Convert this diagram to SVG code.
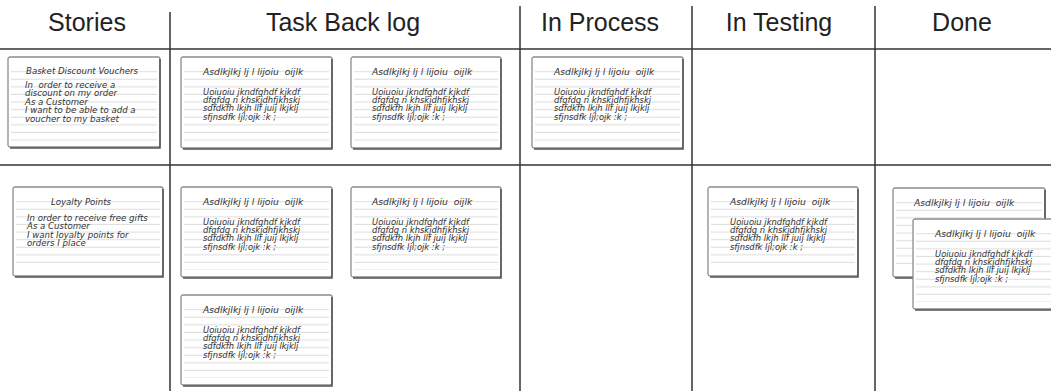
<svg xmlns="http://www.w3.org/2000/svg" width="1051" height="391" viewBox="0 0 1051 391">
<style>
.hdr{font-family:"Liberation Sans",Arial,sans-serif;font-size:25px;fill:#222;text-anchor:middle}
.grid{stroke:#333;stroke-width:1.5;fill:none}
.card{fill:#fff;stroke:#8c8c8c;stroke-width:1.3}
.shadow{fill:none;stroke:#555;stroke-width:1.6}
.t{font-family:"DejaVu Sans","Liberation Sans",sans-serif;font-style:italic;font-size:8.4px;fill:#333}
.ti{font-family:"DejaVu Sans","Liberation Sans",sans-serif;font-style:italic;font-size:9.2px;fill:#333}
.s{font-family:"DejaVu Sans","Liberation Sans",sans-serif;font-style:italic;font-size:8.6px;fill:#333}
.mid{text-anchor:middle}
</style>
<defs>
<pattern id="rule" patternUnits="userSpaceOnUse" width="20" height="7.6">
<line x1="0" y1="7" x2="20" y2="7" stroke="#d2d2d2" stroke-width="0.8"/>
</pattern>
</defs>
<rect width="1051" height="391" fill="#fff"/>
<g id="grid">
<line class="grid" x1="0" y1="49" x2="1051" y2="49" stroke-width="2"/>
<line class="grid" x1="0" y1="165" x2="1051" y2="165"/>
<line class="grid" x1="170" y1="12" x2="170" y2="391"/>
<line class="grid" x1="520" y1="6" x2="520" y2="391"/>
<line class="grid" x1="692" y1="6" x2="692" y2="391"/>
<line class="grid" x1="875" y1="6" x2="875" y2="391"/>
</g>
<g id="headers">
<text class="hdr" x="87" y="31">Stories</text>
<text class="hdr" x="343" y="31">Task Back log</text>
<text class="hdr" x="600" y="31">In Process</text>
<text class="hdr" x="779" y="31">In Testing</text>
<text class="hdr" x="962" y="31">Done</text>
</g>
<g id="connectors"/>
<g id="story-basket" transform="translate(8,57)">
<rect class="card" width="152" height="90" rx="2"/>
<path class="shadow" d="M152,2 V91 H2"/>
<rect x="3" y="14" width="146" height="70" fill="url(#rule)"/>
<text class="s mid" x="74" y="17">Basket Discount Vouchers</text>
<text class="s" x="17" y="31">In&#160; order to receive a</text>
<text class="s" x="17" y="39.4">discount on my order</text>
<text class="s" x="17" y="47.8">As a Customer</text>
<text class="s" x="17" y="56.2">I want to be able to add a</text>
<text class="s" x="17" y="64.6">voucher to my basket</text>
</g>
<g id="task-backlog-1" transform="translate(181,57)">
<rect class="card" width="151" height="91" rx="2"/>
<path class="shadow" d="M151,2 V92 H2"/>
<rect x="3" y="14" width="145" height="70" fill="url(#rule)"/>
<text class="ti" x="22" y="18">Asdlkjlkj lj l lijoiu&#160; oijlk</text>
<text class="t" x="22" y="38">Uoiuoiu jkndfghdf kjkdf</text>
<text class="t" x="22" y="46.2">dfgfdg n khskjdhfjkhskj</text>
<text class="t" x="22" y="54.4">sdfdkfh lkjh llf juij lkjklj</text>
<text class="t" x="22" y="62.6">sfjnsdfk ljl;ojk :k ;</text>
</g>
<g id="task-backlog-2" transform="translate(351,57)">
<rect class="card" width="150" height="91" rx="2"/>
<path class="shadow" d="M150,2 V92 H2"/>
<rect x="3" y="14" width="144" height="70" fill="url(#rule)"/>
<text class="ti" x="21" y="18">Asdlkjlkj lj l lijoiu&#160; oijlk</text>
<text class="t" x="21" y="38">Uoiuoiu jkndfghdf kjkdf</text>
<text class="t" x="21" y="46.2">dfgfdg n khskjdhfjkhskj</text>
<text class="t" x="21" y="54.4">sdfdkfh lkjh llf juij lkjklj</text>
<text class="t" x="21" y="62.6">sfjnsdfk ljl;ojk :k ;</text>
</g>
<g id="in-process-1" transform="translate(532,57)">
<rect class="card" width="151" height="91" rx="2"/>
<path class="shadow" d="M151,2 V92 H2"/>
<rect x="3" y="14" width="145" height="70" fill="url(#rule)"/>
<text class="ti" x="22" y="18">Asdlkjlkj lj l lijoiu&#160; oijlk</text>
<text class="t" x="22" y="38">Uoiuoiu jkndfghdf kjkdf</text>
<text class="t" x="22" y="46.2">dfgfdg n khskjdhfjkhskj</text>
<text class="t" x="22" y="54.4">sdfdkfh lkjh llf juij lkjklj</text>
<text class="t" x="22" y="62.6">sfjnsdfk ljl;ojk :k ;</text>
</g>
<g id="story-loyalty" transform="translate(13,187)">
<rect class="card" width="150" height="89" rx="2"/>
<path class="shadow" d="M150,2 V90 H2"/>
<rect x="3" y="14" width="144" height="68" fill="url(#rule)"/>
<text class="s mid" x="68" y="18">Loyalty Points</text>
<text class="s" x="14" y="34">In order to receive free gifts</text>
<text class="s" x="14" y="42.4">As a Customer</text>
<text class="s" x="14" y="50.8">I want loyalty points for</text>
<text class="s" x="14" y="59.2">orders I place</text>
</g>
<g id="task-backlog-3" transform="translate(181,187)">
<rect class="card" width="151" height="90" rx="2"/>
<path class="shadow" d="M151,2 V91 H2"/>
<rect x="3" y="14" width="145" height="69" fill="url(#rule)"/>
<text class="ti" x="22" y="18">Asdlkjlkj lj l lijoiu&#160; oijlk</text>
<text class="t" x="22" y="38">Uoiuoiu jkndfghdf kjkdf</text>
<text class="t" x="22" y="46.2">dfgfdg n khskjdhfjkhskj</text>
<text class="t" x="22" y="54.4">sdfdkfh lkjh llf juij lkjklj</text>
<text class="t" x="22" y="62.6">sfjnsdfk ljl;ojk :k ;</text>
</g>
<g id="task-backlog-4" transform="translate(351,187)">
<rect class="card" width="150" height="90" rx="2"/>
<path class="shadow" d="M150,2 V91 H2"/>
<rect x="3" y="14" width="144" height="69" fill="url(#rule)"/>
<text class="ti" x="21" y="18">Asdlkjlkj lj l lijoiu&#160; oijlk</text>
<text class="t" x="21" y="38">Uoiuoiu jkndfghdf kjkdf</text>
<text class="t" x="21" y="46.2">dfgfdg n khskjdhfjkhskj</text>
<text class="t" x="21" y="54.4">sdfdkfh lkjh llf juij lkjklj</text>
<text class="t" x="21" y="62.6">sfjnsdfk ljl;ojk :k ;</text>
</g>
<g id="task-backlog-5" transform="translate(181,295)">
<rect class="card" width="151" height="90" rx="2"/>
<path class="shadow" d="M151,2 V91 H2"/>
<rect x="3" y="14" width="145" height="69" fill="url(#rule)"/>
<text class="ti" x="22" y="18">Asdlkjlkj lj l lijoiu&#160; oijlk</text>
<text class="t" x="22" y="38">Uoiuoiu jkndfghdf kjkdf</text>
<text class="t" x="22" y="46.2">dfgfdg n khskjdhfjkhskj</text>
<text class="t" x="22" y="54.4">sdfdkfh lkjh llf juij lkjklj</text>
<text class="t" x="22" y="62.6">sfjnsdfk ljl;ojk :k ;</text>
</g>
<g id="in-testing-1" transform="translate(708,187)">
<rect class="card" width="150" height="89" rx="2"/>
<path class="shadow" d="M150,2 V90 H2"/>
<rect x="3" y="14" width="144" height="68" fill="url(#rule)"/>
<text class="ti" x="22" y="18">Asdlkjlkj lj l lijoiu&#160; oijlk</text>
<text class="t" x="22" y="38">Uoiuoiu jkndfghdf kjkdf</text>
<text class="t" x="22" y="46.2">dfgfdg n khskjdhfjkhskj</text>
<text class="t" x="22" y="54.4">sdfdkfh lkjh llf juij lkjklj</text>
<text class="t" x="22" y="62.6">sfjnsdfk ljl;ojk :k ;</text>
</g>
<g id="done-1" transform="translate(893,188)">
<rect class="card" width="152" height="89" rx="2"/>
<path class="shadow" d="M152,2 V90 H2"/>
<rect x="3" y="14" width="146" height="68" fill="url(#rule)"/>
<text class="ti" x="21" y="18">Asdlkjlkj lj l lijoiu&#160; oijlk</text>
</g>
<g id="done-2" transform="translate(913,219)">
<rect class="card" width="160" height="90" rx="2"/>
<path class="shadow" d="M160,2 V91 H2"/>
<rect x="3" y="14" width="154" height="69" fill="url(#rule)"/>
<text class="ti" x="22" y="18">Asdlkjlkj lj l lijoiu&#160; oijlk</text>
<text class="t" x="22" y="38">Uoiuoiu jkndfghdf kjkdf</text>
<text class="t" x="22" y="46.2">dfgfdg n khskjdhfjkhskj</text>
<text class="t" x="22" y="54.4">sdfdkfh lkjh llf juij lkjklj</text>
<text class="t" x="22" y="62.6">sfjnsdfk ljl;ojk :k ;</text>
</g>
</svg>
